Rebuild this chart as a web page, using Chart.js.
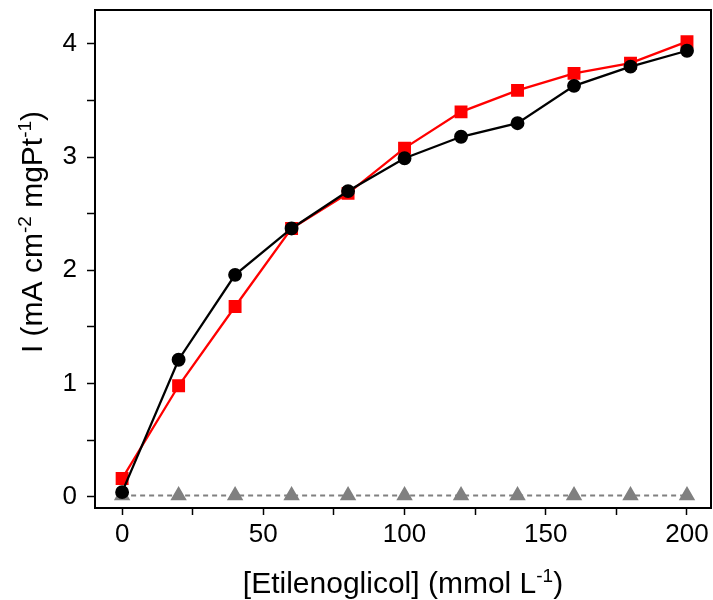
<!DOCTYPE html>
<html><head><meta charset="utf-8">
<script src="https://cdn.jsdelivr.net/npm/chart.js@4/dist/chart.umd.min.js"></script>
<style>html,body{margin:0;padding:0;background:#fff}#wrap{width:713px;height:600px}</style>
</head><body><div id="wrap"><canvas id="c" width="713" height="600"></canvas></div>
<script>
const xVals = [0, 20, 40, 60, 80, 100, 120, 140, 160, 180, 200];
const blackSeries = [0.04, 1.21, 1.96, 2.37, 2.70, 2.99, 3.18, 3.30, 3.63, 3.80, 3.94];
const redSeries = [0.16, 0.98, 1.68, 2.37, 2.68, 3.08, 3.40, 3.59, 3.74, 3.83, 4.02];
const graySeries = [0.01, 0.01, 0.01, 0.01, 0.01, 0.01, 0.01, 0.01, 0.01, 0.01, 0.01];
const xTickValues = [0, 25, 50, 75, 100, 125, 150, 175, 200];
const yTickValues = [0, 0.5, 1, 1.5, 2, 2.5, 3, 3.5, 4];
// axis titles as text runs: [text, isSuperscript]
const yTitleRuns = [['I (mA cm', false], ['-2', true], [' mgPt', false], ['-1', true], [')', false]];
const xTitleRuns = [['[Etilenoglicol] (mmol L', false], ['-1', true], [')', false]];

const pts = arr => xVals.map((x, i) => ({x: x, y: arr[i]}));
const FONT = '"Liberation Sans", Arial, sans-serif';
const TITLE_SIZE = 30, SUP_SIZE = 19;

function runsWidth(ctx, runs) {
  let w = 0;
  for (const [t, sup] of runs) {
    ctx.font = (sup ? SUP_SIZE : TITLE_SIZE) + 'px ' + FONT;
    w += ctx.measureText(t).width;
  }
  return w;
}
function drawRuns(ctx, runs, startX, baseY) {
  let x = startX;
  ctx.textBaseline = 'alphabetic';
  ctx.textAlign = 'left';
  for (const [t, sup] of runs) {
    ctx.font = (sup ? SUP_SIZE : TITLE_SIZE) + 'px ' + FONT;
    ctx.fillText(t, x, sup ? baseY - 11 : baseY);
    x += ctx.measureText(t).width;
  }
}

const boxPlugin = {
  id: 'box',
  afterDraw(chart) {
    const a = chart.chartArea, ctx = chart.ctx;
    ctx.save();
    ctx.strokeStyle = '#000'; ctx.lineWidth = 2;
    ctx.strokeRect(a.left, a.top, a.right - a.left, a.bottom - a.top);
    ctx.fillStyle = '#000';
    const wx = runsWidth(ctx, xTitleRuns);
    drawRuns(ctx, xTitleRuns, (a.left + a.right) / 2 - wx / 2, 593);
    const wy = runsWidth(ctx, yTitleRuns);
    ctx.translate(42, 232);
    ctx.rotate(-Math.PI / 2);
    drawRuns(ctx, yTitleRuns, -wy / 2, 0);
    ctx.restore();
  }
};

function zeroPad(s) { s.paddingTop = 0; s.paddingBottom = 0; s.paddingLeft = 0; s.paddingRight = 0; }

new Chart(document.getElementById('c'), {
  type: 'scatter',
  data: {
    datasets: [
      {data: pts(blackSeries), showLine: true, borderColor: '#000', backgroundColor: '#000', borderWidth: 2.3,
       pointStyle: 'circle', pointRadius: 5.8, pointHoverRadius: 5.8},
      {data: pts(redSeries), showLine: true, borderColor: '#ff0000', backgroundColor: '#ff0000', borderWidth: 2.3,
       pointStyle: 'rect', pointRadius: 7.5, pointHoverRadius: 7.5},
      {data: pts(graySeries), showLine: true, borderColor: '#808080', backgroundColor: '#808080', borderWidth: 2,
       borderDash: [5, 4], pointStyle: 'triangle', pointRadius: 7.5, pointHoverRadius: 7.5}
    ]
  },
  options: {
    responsive: false, animation: false, devicePixelRatio: 1,
    layout: {autoPadding: false, padding: {top: 10, right: 2, left: 0, bottom: 0}},
    plugins: {legend: {display: false}, tooltip: {enabled: false}},
    scales: {
      x: {
        type: 'linear', min: -9.6, max: 208.5,
        afterBuildTicks(s) { s.ticks = xTickValues.map(v => ({value: v})); },
        ticks: {color: '#000', font: {family: FONT, size: 26}, padding: 4,
                callback: v => (v % 50 === 0 ? String(v) : '')},
        grid: {drawOnChartArea: false, color: '#000', tickLength: 7, tickWidth: 1.5},
        border: {display: false},
        title: {display: false},
        afterFit(s) { s.height = 92; zeroPad(s); }
      },
      y: {
        type: 'linear', min: -0.1, max: 4.30,
        afterBuildTicks(s) { s.ticks = yTickValues.map(v => ({value: v})); },
        ticks: {color: '#000', font: {family: FONT, size: 26}, padding: 10,
                callback: v => (Number.isInteger(v) ? String(v) : '')},
        grid: {drawOnChartArea: false, color: '#000', tickLength: 8, tickWidth: 1.5},
        border: {display: false},
        title: {display: false},
        afterFit(s) { s.width = 95; zeroPad(s); }
      }
    }
  },
  plugins: [boxPlugin]
});
</script></body></html>
